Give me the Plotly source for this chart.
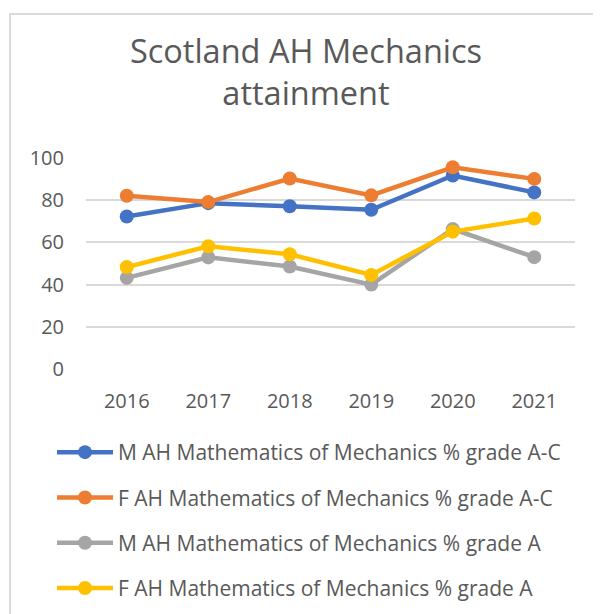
import plotly.graph_objects as go

years = ["2016", "2017", "2018", "2019", "2020", "2021"]
m_ac = [72.3, 78.6, 77.1, 75.5, 91.7, 83.7]
f_ac = [82.1, 79.1, 90.3, 82.3, 95.6, 90.1]
m_a = [43.2, 52.9, 48.6, 40.0, 66.3, 53.0]
f_a = [48.3, 58.2, 54.4, 44.6, 65.1, 71.3]

series = [
    ("M AH Mathematics of Mechanics % grade A-C", m_ac, "#4472C4"),
    ("F AH Mathematics of Mechanics % grade A-C", f_ac, "#ED7D31"),
    ("M AH Mathematics of Mechanics % grade A", m_a, "#A5A5A5"),
    ("F AH Mathematics of Mechanics % grade A", f_a, "#FFC000"),
]

FONT = "Open Sans"
TXT = "#595959"
OFF = 8  # page body margin offset

fig = go.Figure()
for i, (name, vals, color) in enumerate(series):
    fig.add_trace(
        go.Scatter(
            x=years,
            y=vals,
            mode="lines+markers",
            name=name,
            legendgroup=f"g{i}",
            line=dict(color=color, width=4.5),
            marker=dict(color=color, size=14),
        )
    )

# target plot area on screen: x 86..575, y 158..369
L, T = 86 - OFF, 158 - OFF
W, H = 489, 211
R, B = 601 - L - W, 614 - T - H


def px_x(p):
    return (p - OFF - L) / W


def px_y(p):
    return (T + H - (p - OFF)) / H


fig.update_layout(
    width=601,
    height=614,
    margin=dict(l=L, r=R, t=T, b=B),
    paper_bgcolor="white",
    plot_bgcolor="white",
    font=dict(family=FONT, color=TXT, size=20),
    title=dict(
        text="Scotland AH Mechanics<br>attainment",
        x=(306 - OFF) / 601,
        xanchor="center",
        y=1 - 55 / 614,
        yanchor="top",
        font=dict(family=FONT, size=32.5, color=TXT),
    ),
    xaxis=dict(
        type="category",
        range=[-0.5, 5.5],
        showgrid=False,
        showline=False,
        ticks="",
        ticklabelstandoff=18,
        tickfont=dict(size=20, color=TXT),
        fixedrange=True,
    ),
    yaxis=dict(
        range=[0, 100],
        dtick=20,
        showgrid=True,
        gridcolor="#D9D9D9",
        gridwidth=1.5,
        zeroline=False,
        showline=False,
        ticks="",
        ticklabelstandoff=21,
        tickfont=dict(size=20, color=TXT),
        fixedrange=True,
    ),
    legend=dict(
        orientation="v",
        x=px_x(52),
        xanchor="left",
        y=px_y(432),
        yanchor="top",
        font=dict(family=FONT, size=21, color=TXT),
        tracegroupgap=15,
        itemwidth=56,
        bgcolor="rgba(0,0,0,0)",
    ),
    showlegend=True,
)

# chart-area border (top and left edges visible)
fig.add_shape(
    type="rect",
    xref="paper",
    yref="paper",
    x0=px_x(10),
    x1=3,
    y0=-3,
    y1=px_y(14),
    line=dict(color="#D9D9D9", width=2),
    layer="below",
)

fig.write_html("out.html")
